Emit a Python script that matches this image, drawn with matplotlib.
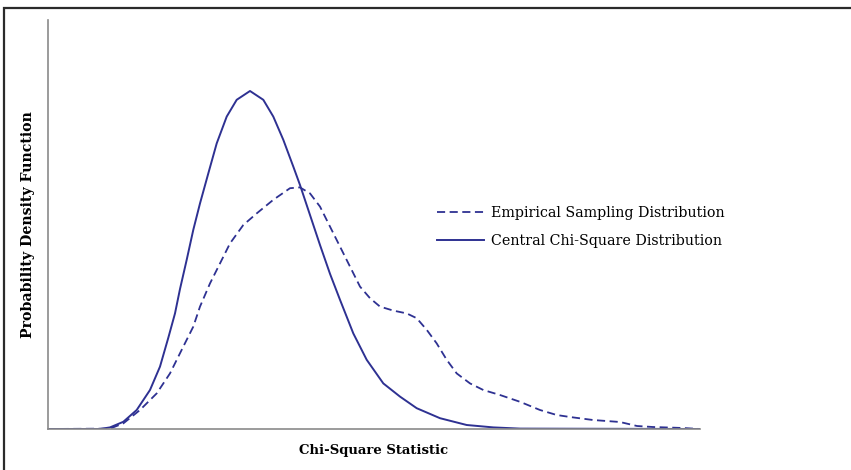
import matplotlib
matplotlib.use("Agg")
import matplotlib.pyplot as plt
from matplotlib.patches import Rectangle

# values (chi-square statistic vs density)
central_x = [0, 5.2, 6.2, 7.53, 8.87, 10.2, 11.2, 12.03, 12.7, 13.2, 13.87, 14.53, 15.2,
             16.03, 16.87, 17.87, 18.87, 20.2, 21.53, 22.53, 23.53, 24.53, 25.2, 26.2,
             27.2, 28.2, 29.2, 30.53, 31.87, 33.53, 35.2, 36.87, 39.2, 41.87, 44.53,
             47.2, 65.2]
central_y = [0, 0, 0.0004, 0.0018, 0.00475, 0.00975, 0.0156, 0.0228, 0.0289, 0.0350,
             0.0423, 0.0498, 0.0564, 0.0639, 0.0714, 0.0781, 0.0823, 0.0845, 0.0823,
             0.0781, 0.0723, 0.0656, 0.061, 0.0535, 0.046, 0.0388, 0.0323, 0.0239,
             0.0173, 0.0114, 0.0081, 0.0052, 0.0027, 0.001, 0.0004, 0.0001, 0]

empirical_x = [0, 6.2, 7.53, 9.2, 10.87, 12.2, 13.53, 14.53, 15.2, 16.2, 17.2, 18.2,
               19.53, 20.87, 22.53, 24.2, 25.2, 26.2, 27.2, 28.2, 29.2, 30.2, 31.2,
               32.2, 33.2, 34.53, 35.87, 36.87, 37.87, 38.87, 39.87, 40.87, 42.2,
               43.53, 45.2, 47.2, 49.2, 50.87, 52.2, 54.5, 57.2, 58.9, 60.5, 63.5, 65.2]
empirical_y = [0, 0.0001, 0.0014, 0.00475, 0.0089, 0.0139, 0.0206, 0.0256, 0.0306,
               0.0364, 0.0414, 0.0464, 0.051, 0.0539, 0.0573, 0.0602, 0.0604, 0.0589,
               0.0556, 0.0506, 0.0456, 0.0406, 0.0356, 0.0327, 0.0306, 0.0296, 0.0289,
               0.0277, 0.0248, 0.0214, 0.0173, 0.0139, 0.0114, 0.00975, 0.0085, 0.0068,
               0.00475, 0.0035, 0.003, 0.00225, 0.00175, 0.00075, 0.0005, 0.00025, 0]

navy = "#2E3192"
serif = "DejaVu Serif"
W, H = 851, 470

fig = plt.figure(figsize=(W / 100, H / 100), dpi=100)
ax = fig.add_axes([48 / W, 1 - 429 / H, (700 - 48) / W, (429 - 20) / H])

ax.plot(empirical_x, empirical_y, color=navy, lw=1.3, dashes=(4.5, 2.5),
        solid_joinstyle="round", label="Empirical Sampling Distribution")
ax.plot(central_x, central_y, color=navy, lw=1.4, solid_joinstyle="round",
        label="Central Chi-Square Distribution")

ax.set_xlim(0, 65.2)
ax.set_ylim(0, 0.10225)
ax.set_xticks([])
ax.set_yticks([])
for s in ["top", "right"]:
    ax.spines[s].set_visible(False)
for s in ["left", "bottom"]:
    ax.spines[s].set_color("#8a8a8a")
    ax.spines[s].set_linewidth(1.2)

ax.set_xlabel("Chi-Square Statistic", fontfamily=serif,
              fontweight="bold", fontsize=9.5, labelpad=11)
ax.set_ylabel("Probability Density Function",
              fontfamily=serif, fontweight="bold", fontsize=10.2, labelpad=9)

fig.legend(loc="center left", bbox_to_anchor=(437 / W, 1 - 227 / H),
           frameon=False, borderpad=0, borderaxespad=0,
           prop={"family": serif, "size": 10.3},
           handlelength=3.3, handletextpad=0.45, labelspacing=0.95)

# outer frame (only top and left edges show in the crop)
fig.patches.append(Rectangle((3.5 / W, -0.1), 1.2, 1 - 8 / H + 0.1,
                             transform=fig.transFigure, fill=False,
                             edgecolor="#2b2b2b", lw=1.6))

fig.savefig("out.png", dpi=100)
